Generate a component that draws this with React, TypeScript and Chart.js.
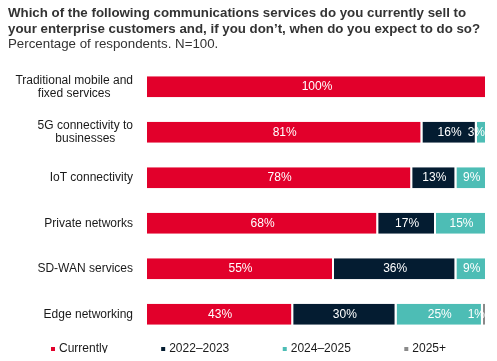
import React, { useEffect, useRef } from "react";
import { Chart, registerables } from "chart.js";

Chart.register(...registerables);

const FONT = '"Liberation Sans", Arial, sans-serif';

const titleLines = [
  "Which of the following communications services do you currently sell to",
  "your enterprise customers and, if you don\u2019t, when do you expect to do so?",
];
const subtitle = "Percentage of respondents. N=100.";

const categories: string[][] = [
  ["Traditional mobile and", "fixed services"],
  ["5G connectivity to", "businesses"],
  ["IoT connectivity"],
  ["Private networks"],
  ["SD-WAN services"],
  ["Edge networking"],
];

const seriesNames = ["Currently", "2022\u20132023", "2024\u20132025", "2025+"];
const currently = [100, 81, 78, 68, 55, 43];
const y2022 = [0, 16, 13, 17, 36, 30.4];
const y2024 = [0, 3, 9, 15, 9, 25.4];
const y2025 = [0, 0, 0, 0, 0, 1.2];
const colors = ["#e2002b", "#041c31", "#4dbdb5", "#8a8a8a"];

const overlay = {
  id: "overlay",
  afterDatasetsDraw(chart: any) {
    const ctx = chart.ctx;
    const area = chart.chartArea;
    ctx.save();
    // title
    ctx.fillStyle = "#333333";
    ctx.textAlign = "left";
    ctx.textBaseline = "alphabetic";
    ctx.font = `bold 13.3px ${FONT}`;
    ctx.fillText(titleLines[0], 8, 17);
    ctx.fillText(titleLines[1], 8, 32.5);
    ctx.font = `13.3px ${FONT}`;
    ctx.fillText(subtitle, 8, 48);

    // y labels
    const yScale = chart.scales.y;
    ctx.font = `12px ${FONT}`;
    ctx.fillStyle = "#1a1a1a";
    ctx.textBaseline = "middle";
    ctx.textAlign = "center";
    const lh = 13;
    categories.forEach((lines, i) => {
      const yc = yScale.getPixelForValue(i);
      const bw = Math.max(...lines.map((l) => ctx.measureText(l).width));
      const cx = 133 - bw / 2;
      const y0 = yc - ((lines.length - 1) * lh) / 2;
      lines.forEach((l, j) => ctx.fillText(l, cx, y0 + j * lh));
    });

    // segment labels
    ctx.fillStyle = "#ffffff";
    chart.data.datasets.forEach((ds: any, di: number) => {
      const meta = chart.getDatasetMeta(di);
      meta.data.forEach((bar: any, i: number) => {
        const v = ds.data[i];
        if (!v) return;
        const txt = `${Math.round(v)}%`;
        const w = ctx.measureText(txt).width;
        let x = (bar.base + bar.x) / 2;
        if (x + w / 2 > area.right - 2) x = area.right - 2 - w / 2;
        ctx.fillText(txt, x, bar.y);
      });
    });

    // legend
    ctx.textAlign = "left";
    let x = 53;
    const ly = 349;
    seriesNames.forEach((name, i) => {
      ctx.fillStyle = colors[i];
      ctx.fillRect(x - 2, ly - 2, 4, 4);
      ctx.fillStyle = "#1a1a1a";
      ctx.fillText(name, x + 6, ly);
      x += 6 + ctx.measureText(name).width + 55.5;
    });
    ctx.restore();
  },
};

export default function App() {
  const ref = useRef<HTMLCanvasElement>(null);
  useEffect(() => {
    if (!ref.current) return;
    const series = [currently, y2022, y2024, y2025];
    const chart = new Chart(ref.current, {
      type: "bar",
      data: {
        labels: categories.map((c) => c.join(" ")),
        datasets: series.map((d, i) => ({
          label: seriesNames[i],
          data: d,
          backgroundColor: colors[i],
          borderColor: "#ffffff",
          borderWidth: { top: 0, bottom: 0, left: 0, right: 2 },
          borderSkipped: false,
          barPercentage: 0.46,
          categoryPercentage: 1,
        })),
      },
      options: {
        indexAxis: "y",
        responsive: false,
        animation: false,
        layout: { padding: { left: 147, right: 10, top: 64, bottom: 24 } },
        plugins: {
          legend: { display: false },
          title: { display: false },
          tooltip: { enabled: false },
        },
        scales: {
          x: { stacked: true, min: 0, max: 100, display: false },
          y: { stacked: true, display: false },
        },
      },
      plugins: [overlay],
    });
    return () => chart.destroy();
  }, []);
  return (
    <div style={{ marginTop: -8, marginLeft: -8, width: 497, height: 353 }}>
      <canvas ref={ref} width={497} height={361} style={{ display: "block" }} />
    </div>
  );
}
